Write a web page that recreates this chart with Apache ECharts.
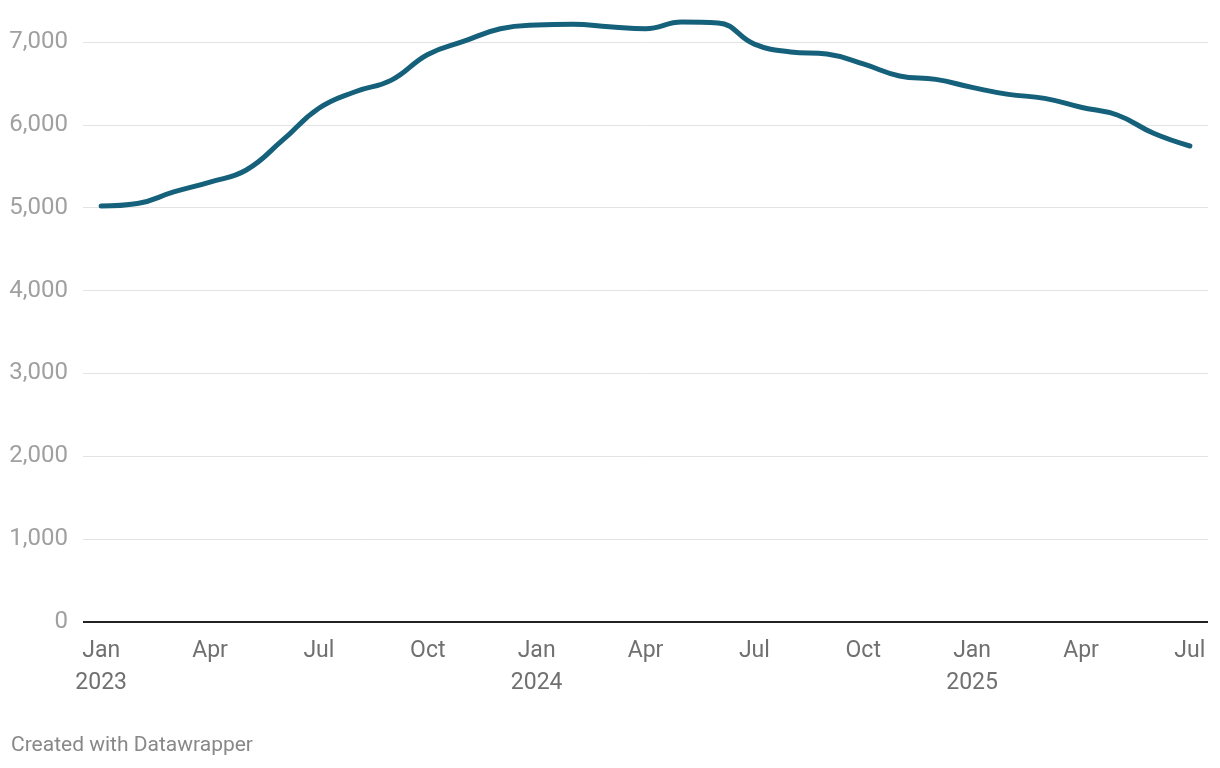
<!DOCTYPE html>
<html>
<head>
<meta charset="utf-8">
<script src="https://cdn.jsdelivr.net/npm/echarts@6/dist/echarts.min.js"></script>
<style>
html,body{margin:0;padding:0;background:#fff;}
#c{width:1220px;height:768px;}
</style>
</head>
<body>
<div id="c"></div>
<script>
const months = ['Jan','Feb','Mar','Apr','May','Jun','Jul','Aug','Sep','Oct','Nov','Dec'];
const categories = [];
for (let y = 2023; y <= 2025; y++) {
  for (let m = 0; m < 12; m++) {
    if (y === 2025 && m > 6) break;
    categories.push(months[m] + ' ' + y);
  }
}
const values = [5020, 5050, 5190, 5310, 5455, 5815, 6200, 6400, 6540, 6850, 7010,
  7160, 7205, 7213, 7185, 7160, 7240, 7230, 6975, 6880, 6855, 6735,
  6590, 6549, 6452, 6368, 6320, 6212, 6119, 5898, 5745];
const yTicks = [0, 1000, 2000, 3000, 4000, 5000, 6000, 7000];

const chart = echarts.init(document.getElementById('c'), null, {renderer: 'canvas'});
chart.setOption({
  animation: false,
  backgroundColor: '#ffffff',
  textStyle: {fontFamily: 'Roboto'},
  graphic: [{
    type: 'text', left: 11, top: 735,
    style: {text: 'Created with Datawrapper', fill: '#888888', fontSize: 21, fontFamily: 'Roboto'}
  }],
  grid: {left: 83, right: 12, top: 42, bottom: 146, containLabel: false},
  xAxis: {
    type: 'category',
    data: categories,
    boundaryGap: true,
    axisLine: {show: false},
    axisTick: {show: false},
    axisLabel: {
      interval: 2,
      margin: 13,
      color: '#707070',
      fontSize: 23,
      lineHeight: 32,
      fontFamily: 'Roboto',
      formatter: function (v) {
        const p = v.split(' ');
        return p[0] === 'Jan' ? p[0] + '\n' + p[1] : p[0];
      }
    }
  },
  yAxis: {
    type: 'value',
    min: 0, max: 7000, interval: 1000,
    axisLine: {show: false},
    axisTick: {show: false},
    splitLine: {lineStyle: {color: '#e3e3e3', width: 1}},
    axisLabel: {
      color: '#a0a0a0', fontSize: 24, margin: 15, fontFamily: 'Roboto',
      formatter: function (v) { return yTicks.indexOf(v) >= 0 ? v.toLocaleString('en-US') : ''; }
    }
  },
  series: [{
    type: 'line',
    data: values,
    smooth: 0.45,
    clip: false,
    symbol: 'none',
    lineStyle: {color: '#15607a', width: 5, cap: 'round'},
    z: 3,
    markLine: {
      silent: true, symbol: 'none', label: {show: false},
      lineStyle: {color: '#222222', width: 2, type: 'solid'},
      data: [{yAxis: 0}]
    }
  }]
});
</script>
</body>
</html>
